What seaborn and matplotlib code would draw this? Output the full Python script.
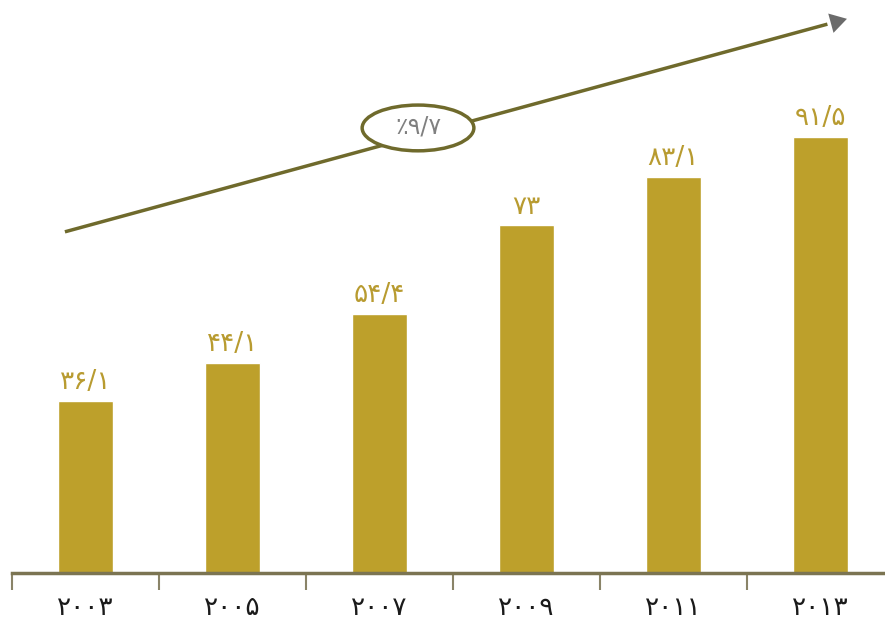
import matplotlib
matplotlib.use("Agg")
import matplotlib.pyplot as plt
from matplotlib.patches import Ellipse
import seaborn as sns
import pandas as pd

years = ["۲۰۰۳", "۲۰۰۵", "۲۰۰۷", "۲۰۰۹", "۲۰۱۱", "۲۰۱۳"]
values = [36.1, 44.1, 54.4, 73.0, 83.1, 91.5]
value_labels = ["۳۶/۱", "۴۴/۱", "۵۴/۴", "۷۳", "۸۳/۱", "۹۱/۵"]
growth_label = "٪۹/۷"

bar_color = "#BDA02B"
label_color = "#B89B30"
axis_color = "#7B7452"
trend_color = "#6F6A2C"

sns.set_theme(style="white")
plt.rcParams["font.family"] = ["DejaVu Sans"]

df = pd.DataFrame({"year": years, "value": values})

fig = plt.figure(figsize=(8.85, 6.22), dpi=100)
ax = fig.add_axes([12 / 885, 49 / 622, 882 / 885, 573 / 622])
sns.barplot(data=df, x="year", y="value", color=bar_color, width=0.375,
            saturation=1, ax=ax)
ax.set_ylim(0, 120.25)
ax.set_xlim(-0.5, 5.5)
ax.set_xlabel("")
ax.set_ylabel("")

for sp in ["top", "right", "left"]:
    ax.spines[sp].set_visible(False)
ax.spines["bottom"].set_color(axis_color)
ax.spines["bottom"].set_linewidth(2.5)
ax.set_yticks([])

# boundary ticks between categories, labels centred under bars
ax.set_xticks([i - 0.5 for i in range(len(years) + 1)])
ax.set_xticklabels([])
ax.tick_params(axis="x", which="major", length=12, width=1.5,
               color="#8A8468", direction="out", bottom=True)
ax.set_xticks(range(len(years)), minor=True)
ax.set_xticklabels(years, minor=True, fontsize=19, color="#1a1a1a")
ax.tick_params(axis="x", which="minor", length=0, pad=16)

for i, (v, lab) in enumerate(zip(values, value_labels)):
    ax.annotate(lab, xy=(i, v), xytext=(0, 4), textcoords="offset points",
                ha="center", va="bottom", fontsize=19, color=label_color)

# trend arrow
x0, y0 = -0.14, 71.6
x1, y1 = 5.18, 116.3
xm = x0 + (x1 - x0) * 0.975
ym = y0 + (y1 - y0) * 0.975
ax.plot([x0, xm], [y0, ym], color=trend_color, lw=2.5, clip_on=False,
        solid_capstyle="butt", zorder=3)
ax.annotate("", xy=(x1, y1), xytext=(xm - (x1 - x0) * 0.01, ym - (y1 - y0) * 0.01),
            arrowprops=dict(arrowstyle="-|>,head_length=0.6,head_width=0.36",
                            color="#6B6B6B", mutation_scale=20,
                            lw=0, shrinkA=0, shrinkB=0), annotation_clip=False,
            zorder=4)

ell = Ellipse((2.262, 93.4), width=0.76, height=9.6, facecolor="white",
              edgecolor=trend_color, lw=2.5, zorder=5)
ax.add_patch(ell)
ax.text(2.262, 93.6, growth_label, ha="center", va="center", fontsize=17,
        color="#808080", zorder=6)

fig.savefig("out.png", dpi=100)
